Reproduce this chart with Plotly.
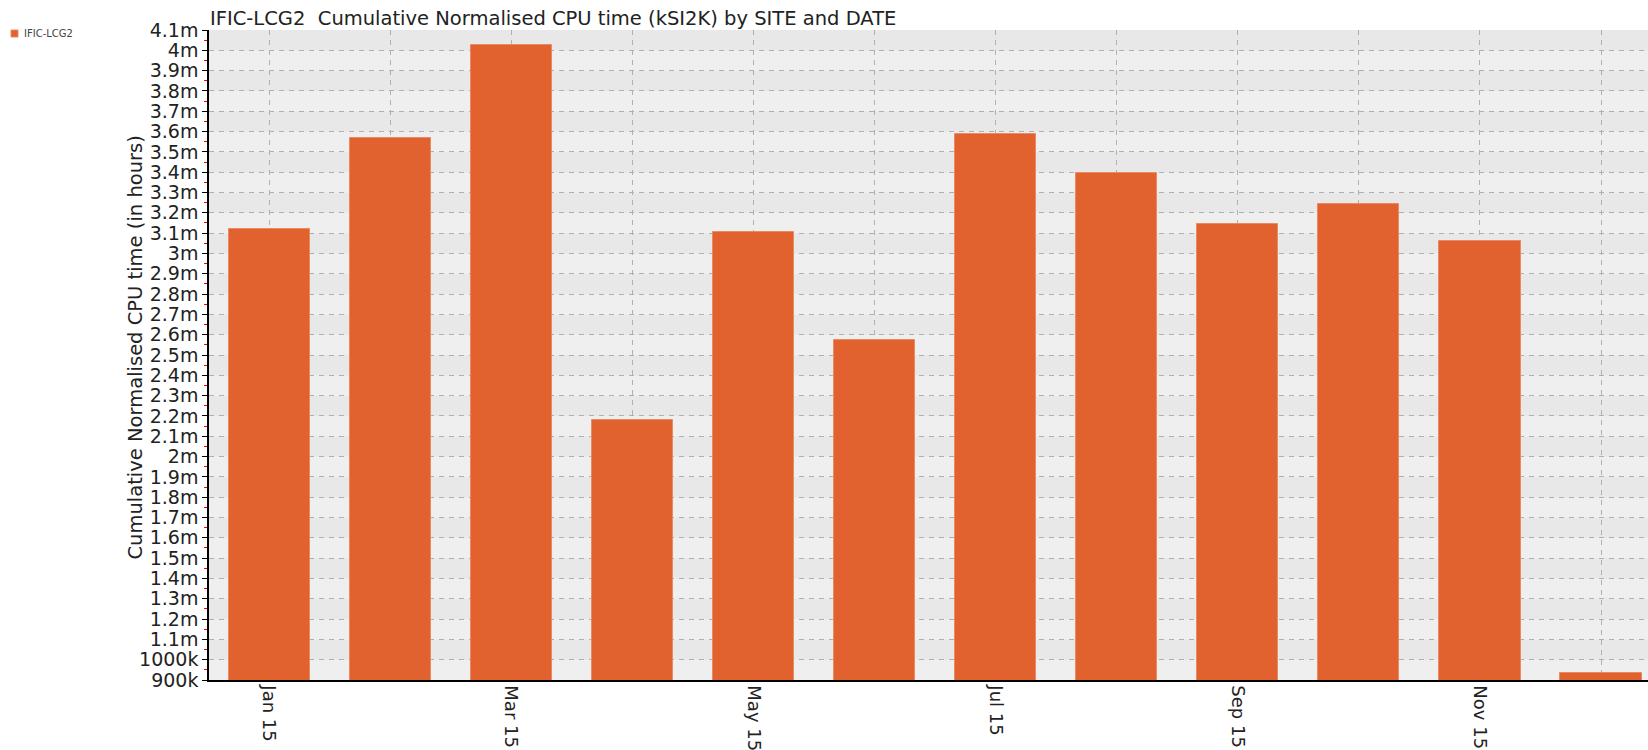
import plotly.graph_objects as go

months = ["Jan 15", "Feb 15", "Mar 15", "Apr 15", "May 15", "Jun 15",
          "Jul 15", "Aug 15", "Sep 15", "Oct 15", "Nov 15", "Dec 15"]
cpu_hours = [3118000, 3570000, 4028000, 2180000, 3106000, 2576000,
             3590000, 3397000, 3146000, 3244000, 3060000, 935000]
site = "IFIC-LCG2"

y_ticks = [900000 + 100000 * i for i in range(33)]
y_ticktext = ["900k", "1000k"] + [
    (f"{v/1e6:.1f}m".replace(".0m", "m")) for v in y_ticks[2:]
]
x_ticktext = [m if i % 2 == 0 else "" for i, m in enumerate(months)]

W, H = 1648, 750
L, R, T, B = 209, 0, 30, 70
PW, PH = W - L - R, H - T - B
BAR_COLOR = "#e1622f"
GRID_DASH = "5px,5px"


def px_x(p):
    return (p - L) / PW


def px_y(p):
    return 1 - (p - T) / PH


fig = go.Figure()
fig.add_trace(go.Bar(
    x=list(range(len(months))), y=cpu_hours, name=site,
    marker=dict(color=BAR_COLOR, line=dict(color="#ea8a62", width=1)),
    width=0.67, base=0, showlegend=False,
))

# alternating horizontal background bands
shapes = []
for i in range(len(y_ticks) - 1):
    shapes.append(dict(
        type="rect", xref="paper", yref="y", x0=0, x1=1,
        y0=y_ticks[i], y1=y_ticks[i + 1], layer="below", line=dict(width=0),
        fillcolor="#efefef" if (len(y_ticks) - 2 - i) % 2 == 1 else "#e8e8e8",
    ))
# legend swatch
shapes.append(dict(type="rect", xref="paper", yref="paper",
                   x0=px_x(11), x1=px_x(18), y0=px_y(30), y1=px_y(37),
                   fillcolor=BAR_COLOR, line=dict(color="#ea8a62", width=1)))

fig.update_layout(
    width=W, height=H,
    margin=dict(l=L, r=R, t=T, b=B, autoexpand=False),
    paper_bgcolor="white", plot_bgcolor="#ececec",
    font=dict(family="DejaVu Sans", color="#222"),
    shapes=shapes,
    annotations=[
        dict(text=site, xref="paper", yref="paper",
             x=px_x(22), y=px_y(33.5), xanchor="left", yanchor="middle",
             showarrow=False, font=dict(size=10, color="#444")),
        dict(text="Cumulative Normalised CPU time (in hours)",
             xref="paper", yref="paper", x=px_x(134.5), y=px_y(348),
             xanchor="center", yanchor="middle", textangle=-90,
             showarrow=False, font=dict(size=19.5, color="#222")),
    ],
    bargap=0,
    title=dict(text="IFIC-LCG2  Cumulative Normalised CPU time (kSI2K) by SITE and DATE",
               x=(L + 1) / W, xanchor="left", xref="container",
               y=1 - 18 / H, yanchor="middle", yref="container",
               font=dict(size=19.5, color="#222", family="DejaVu Sans")),
    showlegend=False,
    xaxis=dict(
        range=[-0.496, 11.388], tickmode="array",
        tickvals=list(range(len(months))), ticktext=x_ticktext,
        tickangle=90, tickfont=dict(size=18, color="#222"),
        showgrid=True, gridcolor="#b0b0b0", griddash=GRID_DASH, gridwidth=1,
        showline=True, linecolor="black", linewidth=1.5,
        ticks="", zeroline=False, automargin=False,
    ),
    yaxis=dict(
        range=[900000, 4100000], tickmode="array",
        tickvals=y_ticks, ticktext=y_ticktext,
        tickfont=dict(size=19, color="#222"),
        showgrid=True, gridcolor="#b0b0b0", griddash=GRID_DASH, gridwidth=1,
        showline=True, linecolor="black", linewidth=1.5,
        ticks="outside", ticklen=5, tickcolor="black",
        minor=dict(tickvals=[v + 50000 for v in y_ticks[:-1]], ticks="outside",
                   ticklen=3, tickcolor="red", showgrid=False),
        zeroline=False, automargin=False,
    ),
)

fig.write_html("out.html", config={"displayModeBar": False},
               post_script="document.body.style.margin='0';document.body.style.overflow='hidden';")
